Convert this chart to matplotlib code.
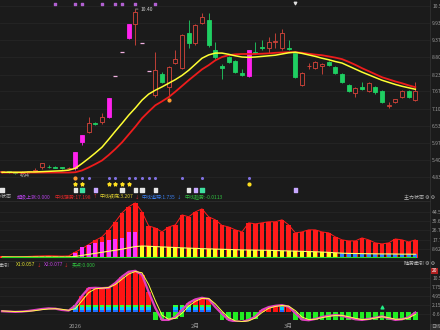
import numpy as np
import matplotlib
matplotlib.use("Agg")
import matplotlib.pyplot as plt
from matplotlib.transforms import blended_transform_factory

plt.rcParams['font.family'] = ['Noto Sans CJK SC', 'DejaVu Sans']
plt.rcParams['axes.unicode_minus'] = False

# ---- K线 (OHLC) ----
opens = [5.00, 5.01, 4.99, 4.98, 5.00, 5.02, 5.15, 5.18, 5.16, 5.15, 5.12,
         5.12, 5.98, 6.31, 6.63, 6.65, 6.81, 8.18, 8.99, 9.44, 9.90,
         9.27, 8.34, 7.54, 8.24, 7.81, 8.61, 8.44, 9.60, 9.27, 9.94,
         10.03, 9.04, 8.51, 8.81, 8.67, 8.27, 8.17, 8.97, 9.14, 9.10,
         9.30, 9.10, 9.10, 8.94, 7.88, 8.50, 8.44, 8.51, 8.64, 8.47,
         8.24, 7.88, 7.61, 7.81, 7.68, 7.81, 7.68, 7.18, 7.31, 7.48,
         7.68, 7.38]
highs = [5.03, 5.03, 5.01, 5.02, 5.04, 5.12, 5.30, 5.22, 5.19, 5.17, 5.16,
         5.65, 6.21, 6.81, 6.66, 6.94, 7.44, 8.18, 8.99, 9.89, 10.40,
         9.27, 8.34, 8.97, 8.30, 8.50, 9.04, 9.56, 10.03, 9.90, 10.27,
         10.27, 9.30, 8.57, 8.84, 8.70, 8.40, 9.04, 9.30, 9.37, 9.47,
         9.60, 9.74, 9.37, 8.97, 8.30, 8.60, 8.67, 8.60, 8.67, 8.50,
         8.27, 7.90, 7.80, 7.98, 7.98, 7.84, 7.70, 7.31, 7.43, 7.70,
         7.72, 7.98]
lows = [4.97, 4.98, 4.94, 4.96, 4.98, 5.00, 5.10, 5.13, 5.12, 5.10, 5.09,
        5.05, 5.90, 6.28, 6.57, 6.60, 6.80, 8.18, 8.99, 9.40, 9.20,
        9.27, 8.34, 7.50, 7.95, 7.48, 8.58, 8.40, 9.10, 9.20, 9.90,
        9.15, 8.75, 8.07, 8.60, 8.28, 8.18, 8.15, 8.90, 9.05, 8.94,
        9.10, 9.05, 9.04, 8.10, 7.85, 8.40, 8.41, 8.24, 8.50, 8.24,
        7.95, 7.65, 7.48, 7.72, 7.65, 7.60, 7.28, 7.11, 7.28, 7.45,
        7.45, 7.36]
closes = [5.01, 4.99, 4.98, 5.00, 5.02, 5.08, 5.28, 5.15, 5.13, 5.12, 5.14,
          5.65, 6.21, 6.61, 6.60, 6.81, 7.44, 8.18, 8.99, 9.89, 10.30,
          9.27, 8.34, 8.37, 7.98, 8.47, 8.74, 9.54, 9.27, 9.87, 10.13,
          9.20, 8.81, 8.44, 8.64, 8.31, 8.21, 9.04, 8.94, 9.10, 9.30,
          9.32, 9.60, 9.07, 8.14, 8.27, 8.52, 8.64, 8.57, 8.54, 8.27,
          7.98, 7.68, 7.78, 7.74, 7.94, 7.64, 7.31, 7.19, 7.41, 7.68,
          7.48, 7.68]
limit_up_idx = [11, 12, 16, 19, 37]

ma_short = [4.99, 4.99, 4.99, 4.99, 5.00, 5.00, 5.01, 5.02, 5.03, 5.04, 5.06,
            5.12, 5.28, 5.45, 5.63, 5.82, 6.08, 6.35, 6.61, 6.88, 7.12,
            7.38, 7.58, 7.71, 7.82, 7.94, 8.06, 8.20, 8.37, 8.57, 8.77,
            8.88, 8.94, 8.94, 8.90, 8.85, 8.81, 8.80, 8.81, 8.83, 8.85,
            8.87, 8.91, 8.95, 8.97, 8.93, 8.88, 8.83, 8.77, 8.72, 8.66,
            8.61, 8.51, 8.41, 8.31, 8.22, 8.13, 8.04, 7.97, 7.90, 7.84,
            7.79, 7.74]
ma_long = [4.98, 4.98, 4.98, 4.98, 4.98, 4.98, 4.98, 4.98, 4.98, 4.98, 4.98,
           4.99, 5.05, 5.15, 5.26, 5.38, 5.56, 5.76, 5.98, 6.24, 6.50,
           6.78, 7.00, 7.21, 7.34, 7.48, 7.66, 7.85, 8.04, 8.22, 8.40,
           8.54, 8.70, 8.81, 8.87, 8.90, 8.91, 8.91, 8.91, 8.92, 8.93,
           8.95, 8.96, 8.97, 8.97, 8.95, 8.92, 8.89, 8.87, 8.83, 8.79,
           8.74, 8.65, 8.55, 8.44, 8.34, 8.24, 8.14, 8.07, 8.00, 7.94,
           7.87, 7.81]

price_ticks = [4.83, 5.40, 5.97, 6.53, 7.10, 7.67, 8.23, 8.80, 9.37, 9.93, 10.50]

# 信号标记
top_dot_idx = [8, 11, 12, 15, 17, 18, 20, 23]
strip_dot_idx = [12, 13, 16, 17, 19, 20, 21, 22, 23, 27, 30, 37]
strip_orange_idx = [11]
star_idx = [11, 12, 16, 17, 18, 19]
square_idx = [0, 11, 12, 14, 18, 20, 21, 23, 28, 29, 30, 44]
square_kind = ['w', 'w', 'g', 'p', 'w', 'w', 'w', 'w', 'w', 'p', 'g', 'p']

# ---- 主力状态 ----
zl_red = [1.5, 1.2, 1.0, 1.2, 1.5, 1.8, 2.0, 2.2, 2.0, 1.8, 2.0,
          5.8, 9.0, 13.0, 17.0, 20.4, 27.0, 35.0, 43.6, 49.5, 53.3,
          44.6, 31.0, 29.0, 25.2, 30.0, 32.0, 41.7, 39.8, 44.6, 47.5,
          39.8, 36.9, 31.5, 30.0, 27.2, 25.2, 34.0, 33.0, 34.0, 35.0,
          35.0, 36.9, 32.0, 24.3, 25.2, 27.2, 27.2, 25.2, 24.3, 20.4,
          17.5, 16.5, 16.5, 19.4, 17.5, 14.6, 13.6, 14.6, 18.4, 17.5,
          15.5, 17.5]
zl_magenta = [0] * 11 + [4.8, 10.7, 12.6, 14.6, 15.5, 17.5, 18.4, 19.4, 25.2, 25.2] + [0] * 42
zl_yellow = [0] * 21 + [11.6, 11.3, 11.0, 10.7, 10.4, 10.1, 9.8, 9.5, 9.3, 9.0,
                        8.8, 8.6, 8.4, 8.2, 8.0, 7.8, 7.7, 7.6, 7.5, 7.4,
                        7.2, 7.0, 6.8, 6.6, 6.4, 6.2, 6.0, 5.7, 5.4, 5.0] + [0] * 12
zl_blue = [0] * 51 + [4.5, 4.3, 4.2, 4.0, 4.0, 3.9, 3.8, 3.8, 3.7, 3.6, 3.6, 3.5]
zl_line = [1.0] * 11 + [1.5, 2.5, 3.5, 4.5, 5.5, 6.5, 7.5, 8.5, 9.8, 11.0,
                        11.6, 11.3, 11.0, 10.7, 10.4, 10.1, 9.8, 9.5, 9.3, 9.0,
                        8.8, 8.6, 8.4, 8.2, 8.0, 7.8, 7.7, 7.6, 7.5, 7.4,
                        7.2, 7.0, 6.8, 6.6, 6.4, 6.2, 6.0, 5.7, 5.4, 5.0,
                        4.6, 4.4, 4.3, 4.2, 4.1, 4.0, 3.9, 3.9, 3.8, 3.7, 3.7, 3.6]
zl_green = [0.8] * 63
zl_ticks = [8.62, 17.7, 26.7, 35.6, 44.5]

# ---- 随势牵引 ----
qy_x2 = [0.2, 0.1, 0.0, 0.1, 0.3, 0.6, 0.9, 1.1, 1.0, 0.6, 0.4,
         2.0, 5.0, 7.4, 7.5, 7.4, 7.5, 9.0, 11.0, 12.5, 12.8,
         11.5, 6.2, 1.2, -2.5, -2.5, -1.6, 0.6, 2.8, 3.9, 4.4,
         4.0, 1.5, -0.6, -2.5, -3.0, -3.1, -2.5, -1.5, 0.6, 1.5,
         1.9, 2.1, 1.6, -0.4, -2.4, -2.6, -2.2, -1.6, -1.2, -1.0,
         -1.2, -1.8, -2.3, -2.5, -2.2, -1.8, -1.4, -2.0, -2.5, -2.3,
         -1.7, -0.2]
qy_x1 = [0.3, 0.2, 0.1, 0.1, 0.2, 0.4, 0.7, 0.9, 1.0, 0.8, 0.5,
         1.0, 3.5, 6.0, 7.2, 7.4, 7.6, 8.5, 10.2, 11.8, 12.6,
         12.2, 8.5, 3.5, -1.0, -2.3, -2.0, -0.4, 1.8, 3.3, 4.2,
         4.2, 2.5, 0.2, -1.8, -2.8, -3.0, -2.8, -1.9, -0.2, 1.1,
         1.7, 2.0, 1.8, 0.4, -1.6, -2.4, -2.3, -1.8, -1.4, -1.1,
         -1.1, -1.5, -2.0, -2.4, -2.3, -1.9, -1.5, -1.8, -2.3, -2.3,
         -1.9, -0.8]
qy_red = [0] * 11 + [2.0, 5.0, 7.4, 7.5, 7.4, 7.5, 9.0, 11.0, 12.5, 12.8, 11.5, 6.2] + \
         [0] * 4 + [0.6, 2.8, 3.9, 4.4, 4.0] + [0] * 7 + [0.6, 1.5, 1.9, 2.1, 1.6] + [0] * 19
qy_green = [0] * 23 + [-2.5, -2.5, -2.5, -2.3, -1.5] + [0] * 5 + \
           [-2.4, -2.5, -2.6, -2.6, -2.5, -2.3] + [0] * 5 + [-2.4] * 19
rainbow_idx = list(range(11, 23)) + list(range(26, 32)) + [42]
qy_ticks = [-0.65, 2.15, 4.95, 7.75, 10.55]

date_tick_idx = [11, 29, 43]
date_labels = ['2026', '2月', '3月']

# 指标标题 (文字, 颜色, 箭头)
zl_header = [('超级上涨:0.000', '#b040e0', None),
             ('中线强势:17.198', '#e02828', ('↑', '#e02828')),
             ('中线铁底:3.207', '#e0d030', ('↓', '#e02828')),
             ('中线追踪:1.735', '#3a7ff0', ('↓', '#3a7ff0')),
             ('中线趋势:-0.0113', '#30c040', None)]
qy_header = [('X1:0.057', '#e0e030', ('↓', '#e02828')),
             ('X2:0.077', '#c040e0', ('↓', '#e02828')),
             ('买点:0.000', '#30c040', None)]

# ---- 画图 ----
BG = '#1b1b1b'
GRID = '#272727'
TXT = '#9a9a9a'
W, H = 440, 330
n = len(closes)
x = np.arange(n)

fig = plt.figure(figsize=(W / 100, H / 100), dpi=100, facecolor=BG)
renderer = fig.canvas.get_renderer()


def box(top, bottom, right=430):
    return [0, 1 - bottom / H, right / W, (bottom - top) / H]


def style(ax, ticks, labels):
    ax.set_facecolor(BG)
    for s in ax.spines.values():
        s.set_visible(False)
    ax.set_xlim(-0.3, 64.2)
    ax.set_xticks([])
    ax.yaxis.tick_right()
    ax.set_yticks(ticks)
    ax.set_yticklabels(labels)
    ax.tick_params(axis='y', length=0, pad=1.5, labelsize=3.6, labelcolor=TXT)
    for t in ticks:
        ax.axhline(t, color=GRID, lw=0.5, zorder=0)


def ftext(px, py, s, color, size=3.6, **kw):
    return fig.text(px / W, 1 - py / H, s, color=color, fontsize=size, va='center', **kw)


def header_row(px, py, items, gap=3):
    for label, color, arrow in items:
        t = ftext(px, py, label, color)
        px = t.get_window_extent(renderer).x1 + 1
        if arrow:
            a = ftext(px, py, arrow[0], arrow[1], size=3.2)
            px = a.get_window_extent(renderer).x1
        px += gap


# 主图
ax1 = fig.add_axes(box(0, 200))
style(ax1, price_ticks, [f"{t:.2f}" for t in price_ticks])
ax1.set_ylim(4.07, 10.70)

o = np.array(opens); h = np.array(highs); l = np.array(lows); c = np.array(closes)
for i in range(n):
    if h[i] == l[i]:
        ax1.hlines(c[i], i - 0.32, i + 0.32, color='#f0b0e0', lw=0.9, zorder=3)
        continue
    if i in limit_up_idx:
        col, fc = '#ff22ee', '#ff22ee'
    elif c[i] >= o[i]:
        col, fc = '#d9453b', BG
    else:
        col, fc = '#1fcf62', '#1fcf62'
    ax1.vlines(i, l[i], h[i], color=col, lw=0.6, zorder=2)
    ax1.bar(i, max(abs(c[i] - o[i]), 0.025), bottom=min(o[i], c[i]), width=0.62,
            facecolor=fc, edgecolor=col, lw=0.6, zorder=3)

ax1.plot(x, ma_long, color='#ee1c1c', lw=1.3, zorder=4)
ax1.plot(x, ma_short, color='#ffff33', lw=1.1, zorder=5)

hi = int(np.argmax(h))
ax1.annotate(f"{h[hi]:.2f}", (hi, h[hi]), xytext=(4, 0), textcoords='offset points',
             color='#cfcfcf', fontsize=3.6, va='center',
             arrowprops=dict(arrowstyle='-', color='#cfcfcf', lw=0.4))
lo = int(np.argmin(l))
ax1.annotate(f"{l[lo]:.2f}", (lo, l[lo]), xytext=(3, -1), textcoords='offset points',
             color='#cfcfcf', fontsize=3.6, va='center')

tr = blended_transform_factory(ax1.transData, ax1.transAxes)
ax1.scatter(top_dot_idx, [0.98] * len(top_dot_idx), s=2.5, marker='s', color='#b060d0', transform=tr, zorder=6)
ax1.scatter([44], [0.985], s=3, marker='v', color='#e0e0e0', transform=tr, zorder=6)
ax1.scatter(strip_dot_idx, [0.11] * len(strip_dot_idx), s=1.5, color='#8070e0', transform=tr, zorder=6)
ax1.scatter(strip_orange_idx, [0.11] * len(strip_orange_idx), s=4, color='#ff9a30', transform=tr, zorder=6)
ax1.scatter(star_idx, [0.08] * len(star_idx), s=6, marker='*', color='#ffe020', transform=tr, zorder=6)
ax1.scatter([37], [0.08], s=4, color='#ffe020', transform=tr, zorder=6)
ax1.scatter([25], [7.40], s=4, color='#ff9a30', zorder=6)
sq_colors = {'w': '#e6e6e6', 'g': '#3ee0a0', 'p': '#c8a8ff'}
ax1.scatter(square_idx, [0.05] * len(square_idx), s=6, marker='s',
            color=[sq_colors[k] for k in square_kind], transform=tr, zorder=6)

# 主力状态
ax2 = fig.add_axes(box(201, 259))
style(ax2, zl_ticks, ['8.62', '17.7', '26.7', '35.6', '44.5'])
ax2.set_ylim(-1.0, 55.1)
ax2.bar(x, zl_red, width=0.72, color='#ff1a1a', zorder=2)
ax2.plot(x, zl_red, color='#ff1a1a', lw=0.7, zorder=2)
for vals, col in [(zl_magenta, '#ff33ff'), (zl_yellow, '#ffff1a'), (zl_blue, '#2f7fff')]:
    v = np.array(vals)
    m = v > 0
    ax2.bar(x[m], v[m], width=0.6, color=col, zorder=3)
ax2.plot(x, zl_line, color='#ffff66', lw=0.8, zorder=4)
ax2.plot(x, zl_green, color='#22dd22', lw=0.8, zorder=4)

# 随势牵引
ax3 = fig.add_axes(box(266, 322))
style(ax3, qy_ticks, ['-0.65', '2.15', '4.95', '7.75', '10.5'])
ax3.set_ylim(-3.15, 14.3)
qr = np.array(qy_red); qg = np.array(qy_green)
ax3.bar(x[qr > 0], qr[qr > 0], width=0.8, color='#ff1414', zorder=2)
ax3.bar(x[qg < 0], qg[qg < 0], width=0.72, color='#22ee22', zorder=2)
for k, col in enumerate(['#1e6fff', '#00ccff', '#33ff33']):
    ax3.bar(rainbow_idx, 0.72, bottom=0.72 * k, width=0.72, color=col, zorder=3)
ax3.plot(x, qy_x2, color='#e040c0', lw=1.6, zorder=4)
ax3.plot(x, qy_x1, color='#ffff40', lw=0.7, zorder=5)
ax3.scatter([57], [1.5], s=4, marker='^', color='#22ee88', zorder=6)
ax3.set_xticks(date_tick_idx)
ax3.set_xticklabels(date_labels)
ax3.tick_params(axis='x', length=0, pad=1.5, labelsize=4.2, labelcolor=TXT)

# 分隔线
for yy in [201, 261]:
    fig.add_artist(plt.Line2D([0, 430 / W], [1 - yy / H] * 2, color='#303030', lw=0.5))
fig.add_artist(plt.Line2D([430 / W] * 2, [0, 1], color='#363636', lw=0.5))

# 指标标题
ftext(-8, 197, '主力状态', '#bdbdbd')
header_row(17, 197, zl_header)
ftext(404, 198, '主力状态 ⚙ ⚙', '#bdbdbd')

ftext(-5, 265, '势牵引', '#bdbdbd')
header_row(16, 265, qy_header)
ftext(404, 263, '随势牵引 ⚙ ⚙', '#bdbdbd')

ftext(432, 271, '20', 'white', bbox=dict(boxstyle='square,pad=0.15', fc='#b02020', ec='none'))
ftext(431, 327, '日线', TXT, size=3.4, bbox=dict(boxstyle='square,pad=0.15', fc='#2c2c2c', ec='#444444', lw=0.4))

fig.savefig('out.png', dpi=100, facecolor=BG)
